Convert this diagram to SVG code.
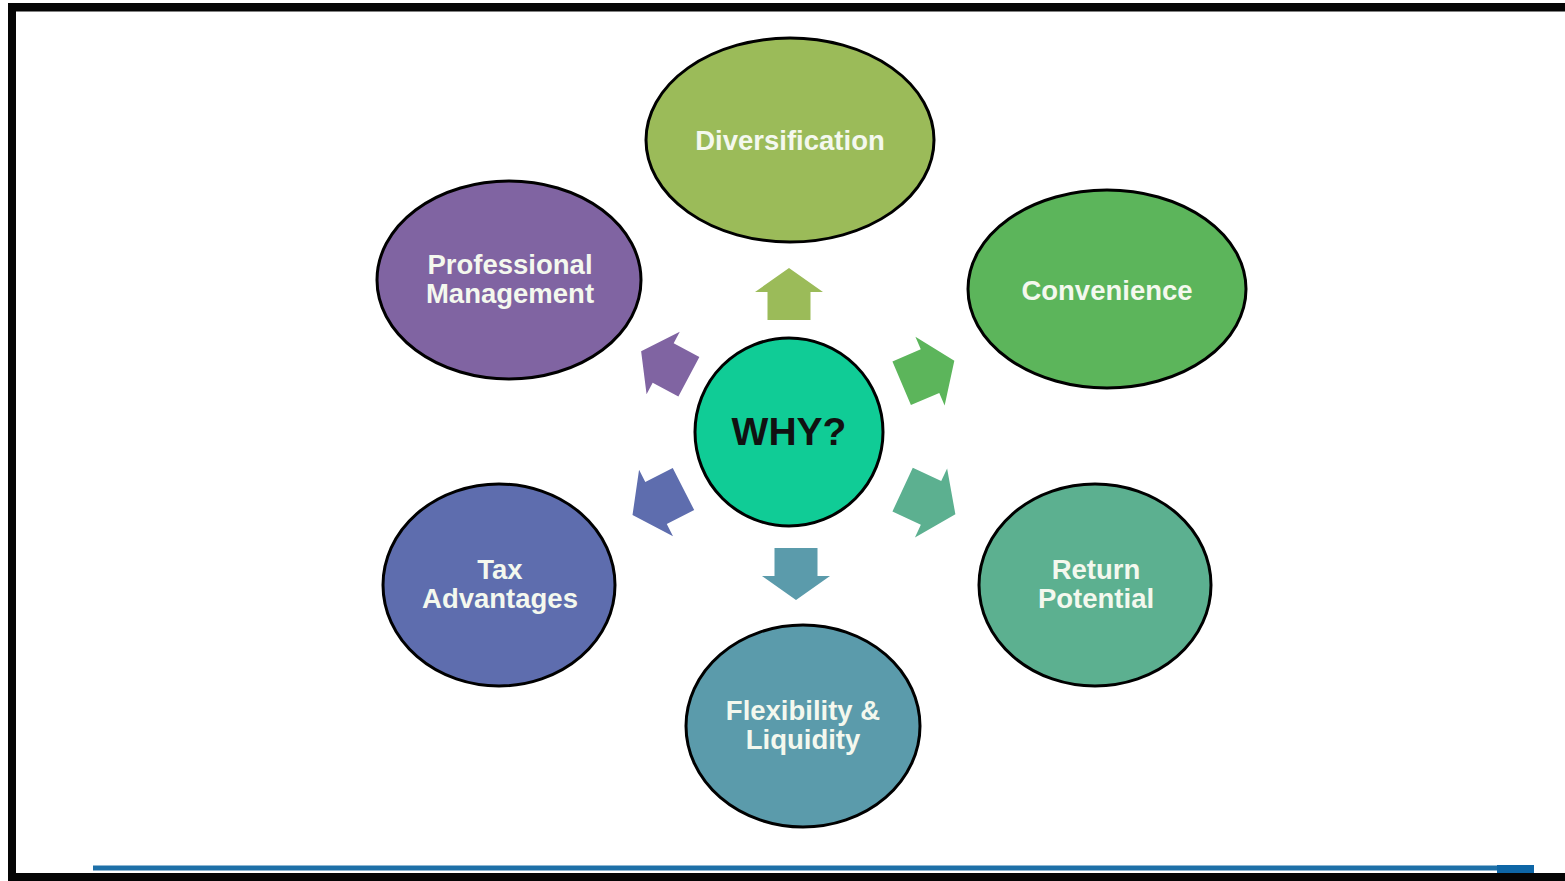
<svg xmlns="http://www.w3.org/2000/svg" width="1565" height="881" viewBox="0 0 1565 881">
  <style>
    .node { stroke: #000; stroke-width: 3; }
    .lbl { font-family: "Liberation Sans", Arial, sans-serif; font-weight: bold; font-size: 27.5px; fill: #f4f8ee; text-anchor: middle; }
    .why { font-family: "Liberation Sans", Arial, sans-serif; font-weight: bold; font-size: 39px; fill: #111; text-anchor: middle; }
  </style>
  <defs>
    <path id="arr" d="M0,-26 L34,-2 L21.5,-2 L21.5,26 L-21.5,26 L-21.5,-2 L-34,-2 Z"/>
  </defs>
  <rect x="0" y="0" width="1565" height="881" fill="#ffffff"/>
  <g id="frame">
    <rect x="8" y="3" width="1557" height="8.5" fill="#050505"/>
    <rect x="8" y="3" width="8" height="878" fill="#050505"/>
    <rect x="8" y="873" width="1557" height="8" fill="#050505"/>
    <rect x="93" y="865.5" width="1441" height="5" fill="#1e70a8"/>
    <rect x="1497" y="865" width="37" height="8" fill="#0e66a6"/>
  </g>
  <g id="connectors">
    <use href="#arr" fill="#9bbb59" transform="translate(789,294)"/>
    <use href="#arr" fill="#5cb55b" transform="translate(928,372) rotate(67) scale(1.1)"/>
    <use href="#arr" fill="#5cb090" transform="translate(929,502) rotate(115) scale(1.12)"/>
    <use href="#arr" fill="#5b9bab" transform="translate(796,574) rotate(180)"/>
    <use href="#arr" fill="#5e6dae" transform="translate(658,502) rotate(-117) scale(1.1)"/>
    <use href="#arr" fill="#8064a2" transform="translate(665,364) rotate(-62) scale(1.04)"/>
  </g>
  <g id="node-diversification">
    <ellipse class="node" cx="790" cy="140" rx="144" ry="102" fill="#9bbb59"/>
    <text class="lbl" x="790" y="150">Diversification</text>
  </g>
  <g id="node-professional">
    <ellipse class="node" cx="509" cy="280" rx="132" ry="99" fill="#8064a2"/>
    <text class="lbl" x="510" y="274">Professional</text>
    <text class="lbl" x="510" y="303">Management</text>
  </g>
  <g id="node-convenience">
    <ellipse class="node" cx="1107" cy="289" rx="139" ry="99" fill="#5cb55b"/>
    <text class="lbl" x="1107" y="300">Convenience</text>
  </g>
  <g id="node-tax">
    <ellipse class="node" cx="499" cy="585" rx="116" ry="101" fill="#5e6dae"/>
    <text class="lbl" x="500" y="579">Tax</text>
    <text class="lbl" x="500" y="608">Advantages</text>
  </g>
  <g id="node-return">
    <ellipse class="node" cx="1095" cy="585" rx="116" ry="101" fill="#5cb090"/>
    <text class="lbl" x="1096" y="579">Return</text>
    <text class="lbl" x="1096" y="608">Potential</text>
  </g>
  <g id="node-flexibility">
    <ellipse class="node" cx="803" cy="726" rx="117" ry="101" fill="#5b9bab"/>
    <text class="lbl" x="803" y="720">Flexibility &amp;</text>
    <text class="lbl" x="803" y="749">Liquidity</text>
  </g>
  <g id="node-why">
    <circle class="node" cx="789" cy="432" r="94" fill="#10cc96"/>
    <text class="why" x="789" y="445">WHY?</text>
  </g>
</svg>
